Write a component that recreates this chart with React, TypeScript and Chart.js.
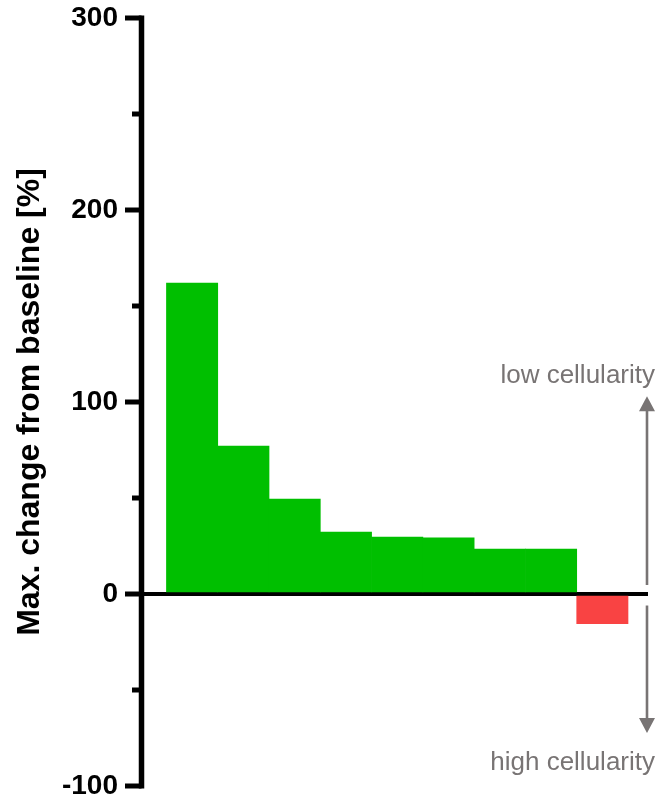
import React, { useEffect, useRef } from "react";
import { Chart, registerables } from "chart.js";

Chart.register(...registerables);

// ---- data ----
const patients = ["P1", "P2", "P3", "P4", "P5", "P6", "P7", "P8", "P9"];
const changeValues = [162, 77, 49.5, 32.3, 29.7, 29.2, 23.4, 23.4, -15.5];
const yMajorTicks = [-100, 0, 100, 200, 300];
const yMinorTicks = [-50, 50, 150, 250];
const yTitle = "Max. change from baseline [%]";
const upLabel = "low cellularity";
const downLabel = "high cellularity";
// annotation anchors in data units (y axis)
const upArrowFrom = 4.7;
const upArrowTo = 103;
const downArrowFrom = -6;
const downArrowTo = -72.4;
const upLabelAt = 110;
const downLabelAt = -91.7;

const GREEN = "#00BF00";
const RED = "#F94343";
const GREY = "#787474";
const FONT = '"Liberation Sans", Arial, Helvetica, sans-serif';

const decorPlugin = {
  id: "decor",
  afterDraw(chart: any) {
    const ctx = chart.ctx;
    const y = chart.scales.y;
    const area = chart.chartArea;
    ctx.save();
    // y axis line + ticks
    const axisX = area.left - 0.5;
    ctx.strokeStyle = "#000";
    ctx.lineWidth = 5.5;
    ctx.lineCap = "butt";
    ctx.beginPath();
    ctx.moveTo(axisX, y.getPixelForValue(300) - 2.5);
    ctx.lineTo(axisX, y.getPixelForValue(-100) + 2.5);
    ctx.stroke();
    ctx.lineWidth = 5;
    for (const v of yMajorTicks) {
      const py = y.getPixelForValue(v);
      ctx.beginPath();
      ctx.moveTo(axisX - 16.5, py);
      ctx.lineTo(axisX, py);
      ctx.stroke();
    }
    for (const v of yMinorTicks) {
      const py = y.getPixelForValue(v);
      ctx.beginPath();
      ctx.moveTo(axisX - 9.5, py);
      ctx.lineTo(axisX, py);
      ctx.stroke();
    }

    // arrows
    const ax = area.right - 1;
    const headLen = 15;
    const headHalf = 8;
    ctx.strokeStyle = GREY;
    ctx.fillStyle = GREY;
    ctx.lineWidth = 2.6;
    // up arrow
    const upTip = y.getPixelForValue(upArrowTo);
    ctx.beginPath();
    ctx.moveTo(ax, y.getPixelForValue(upArrowFrom));
    ctx.lineTo(ax, upTip + headLen - 1);
    ctx.stroke();
    ctx.beginPath();
    ctx.moveTo(ax, upTip);
    ctx.lineTo(ax - headHalf, upTip + headLen);
    ctx.lineTo(ax + headHalf, upTip + headLen);
    ctx.closePath();
    ctx.fill();
    // down arrow
    const downTip = y.getPixelForValue(downArrowTo);
    ctx.beginPath();
    ctx.moveTo(ax, y.getPixelForValue(downArrowFrom));
    ctx.lineTo(ax, downTip - headLen + 1);
    ctx.stroke();
    ctx.beginPath();
    ctx.moveTo(ax, downTip);
    ctx.lineTo(ax - headHalf, downTip - headLen);
    ctx.lineTo(ax + headHalf, downTip - headLen);
    ctx.closePath();
    ctx.fill();

    // labels
    ctx.font = `26px ${FONT}`;
    ctx.textAlign = "right";
    ctx.textBaseline = "alphabetic";
    ctx.fillText(upLabel, chart.width - 4, y.getPixelForValue(upLabelAt));
    ctx.fillText(downLabel, chart.width - 4, y.getPixelForValue(downLabelAt));
    ctx.restore();
  },
};

export default function App() {
  const canvasRef = useRef<HTMLCanvasElement | null>(null);

  useEffect(() => {
    if (!canvasRef.current) return;
    const chart = new Chart(canvasRef.current, {
      type: "bar",
      data: {
        datasets: [
          {
            label: "change",
            data: changeValues.map((v, i) => ({ x: i, y: v })) as any,
            backgroundColor: changeValues.map((v) => (v >= 0 ? GREEN : RED)),
            borderWidth: 0,
            barPercentage: 1,
            categoryPercentage: 1,
          },
        ],
      },
      options: {
        responsive: false,
        maintainAspectRatio: false,
        animation: false,
        layout: { padding: { left: 0, top: 18, right: 11, bottom: 16 } },
        plugins: { legend: { display: false }, tooltip: { enabled: false } },
        scales: {
          x: {
            type: "linear",
            min: -0.977,
            max: 8.89,
            offset: false,
            display: false,
            grid: { offset: false },
            afterBuildTicks: (s: any) => {
              s.ticks = patients.map((_, i) => ({ value: i }));
            },
          },
          y: {
            min: -100,
            max: 300,
            afterFit: (s: any) => {
              s.width = 142;
              s.paddingTop = 0;
              s.paddingBottom = 0;
            },
            afterBuildTicks: (s: any) => {
              s.ticks = yMajorTicks.map((v) => ({ value: v }));
            },
            ticks: {
              color: "#000",
              padding: 24,
              font: { family: FONT, size: 28, weight: "bold" },
            },
            grid: {
              drawTicks: false,
              color: (c: any) => (c.tick && c.tick.value === 0 ? "#000" : "rgba(0,0,0,0)"),
              lineWidth: (c: any) => (c.tick && c.tick.value === 0 ? 4 : 0),
            },
            border: { display: false },
            title: {
              display: true,
              text: yTitle,
              color: "#000",
              font: { family: FONT, size: 32, weight: "bold" },
              padding: { top: 10.5, bottom: 0 },
            },
          },
        },
      } as any,
      plugins: [decorPlugin],
    });
    return () => chart.destroy();
  }, []);

  return (
    <div style={{ position: "fixed", left: 0, top: 0, width: 659, height: 802, background: "#fff" }}>
      <canvas ref={canvasRef} width={659} height={802} style={{ display: "block" }} />
    </div>
  );
}
